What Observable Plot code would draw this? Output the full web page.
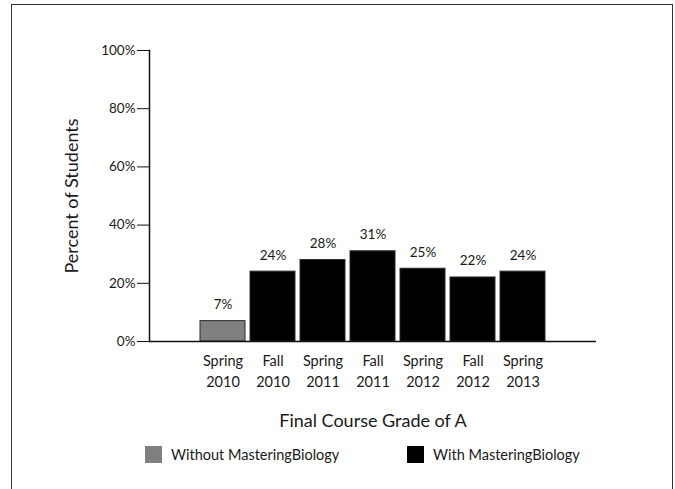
<!DOCTYPE html>
<html>
<head>
<meta charset="utf-8">
<script src="https://cdn.jsdelivr.net/npm/d3@7"></script>
<script src="https://cdn.jsdelivr.net/npm/@observablehq/plot@0.6"></script>
<style>
  html, body { margin: 0; padding: 0; background: #fff; }
  body { width: 675px; height: 489px; position: relative; overflow: hidden; font-family: Lato, "Open Sans", sans-serif; font-weight: 400; }
  #border { position: absolute; left: 11px; top: 4px; width: 662px; height: 520px; border: 1.5px solid #333; box-sizing: border-box; pointer-events: none; }
  #chart { position: absolute; left: 0; top: 0; }
  #legend { position: absolute; left: 0; top: 446px; width: 675px; font-size: 14.5px; color: #1a1a1a; }
  .item { position: absolute; display: flex; align-items: center; }
  .sw { width: 17px; height: 17px; margin-right: 9px; }
</style>
</head>
<body>
<div id="chart"></div>
<div id="legend"></div>
<div id="border"></div>
<script>
const categories = ["Spring 2010", "Fall 2010", "Spring 2011", "Fall 2011", "Spring 2012", "Fall 2012", "Spring 2013"];
const values = [7, 24, 28, 31, 25, 22, 24];
const groups = ["Without MasteringBiology", "With MasteringBiology", "With MasteringBiology", "With MasteringBiology", "With MasteringBiology", "With MasteringBiology", "With MasteringBiology"];
const yTicks = [0, 20, 40, 60, 80, 100];
const groupNames = ["Without MasteringBiology", "With MasteringBiology"];
const groupColors = ["#808082", "#000000"];

const data = categories.map((c, i) => ({category: c, value: values[i], group: groups[i]}));

const chart = Plot.plot({
  width: 675,
  height: 430,
  marginTop: 50,
  marginBottom: 89,
  marginLeft: 149,
  marginRight: 79,
  style: {fontFamily: "Lato, 'Open Sans', sans-serif", color: "#1a1a1a", background: "transparent"},
  x: {domain: categories, paddingInner: 0.098, paddingOuter: 0.94},
  y: {domain: [0, 100]},
  color: {domain: groupNames, range: groupColors},
  marks: [
    Plot.barY(data, {x: "category", y: "value", fill: "group", stroke: "#2a2a2a", strokeWidth: 1}),
    Plot.text(data, {x: "category", y: "value", text: d => d.value + "%", dy: -12, lineAnchor: "bottom", fontSize: 13.5, fill: "#1a1a1a"}),
    Plot.axisY({ticks: yTicks, tickFormat: d => d + "%", tickSize: 12, tickPadding: 2, tickStrokeWidth: 1.5, stroke: "#111", fontSize: 13.5, label: "Percent of Students", labelAnchor: "center", labelArrow: false, labelOffset: 84}),
    Plot.axisX({tickSize: 0, tickPadding: 10, tickFormat: d => d.replace(" ", "\n"), lineHeight: 1.45, fontSize: 14.5, label: "Final Course Grade of A", labelAnchor: "center", labelArrow: false, labelOffset: 85}),
    Plot.frame({anchor: "left", stroke: "#111", strokeWidth: 1.5}),
    Plot.ruleY([0], {stroke: "#111", strokeWidth: 1.5})
  ]
});
document.getElementById("chart").appendChild(chart);

// style axis labels
chart.querySelectorAll("[aria-label='y-axis label'] text, [aria-label='x-axis label'] text").forEach(t => { t.style.fontSize = "18px"; });

const legend = document.getElementById("legend");
const legendX = [145, 407];
groupNames.forEach((g, i) => {
  const item = document.createElement("div");
  item.className = "item";
  item.style.left = legendX[i] + "px";
  const sw = document.createElement("div");
  sw.className = "sw";
  sw.style.background = groupColors[i];
  const lab = document.createElement("span");
  lab.textContent = g;
  item.appendChild(sw);
  item.appendChild(lab);
  legend.appendChild(item);
});
</script>
</body>
</html>
